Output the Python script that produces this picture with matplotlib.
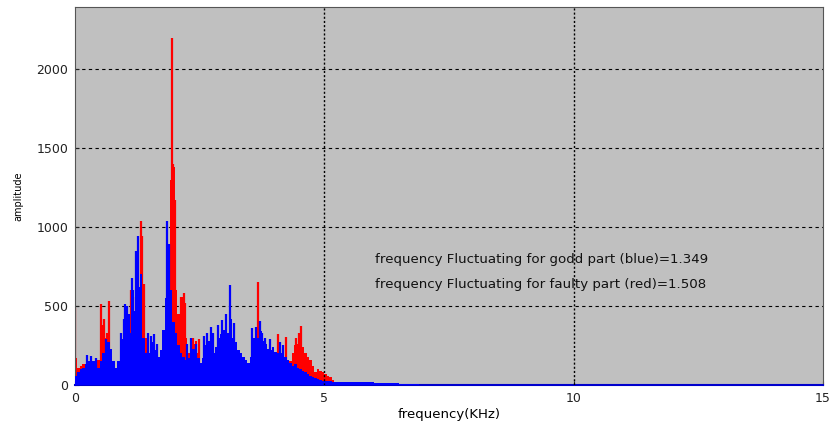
import numpy as np
import matplotlib
matplotlib.use("Agg")
import matplotlib.pyplot as plt

plt.rcParams['font.family'] = ['DejaVu Sans']

# frequency grid (kHz) for the envelope values, step 0.05 kHz
step = 0.05

# blue (good part) body amplitudes, from 0 kHz in 0.05 kHz steps
blue_amp = [60, 80, 100, 110, 130, 150, 170, 150, 140, 110,
            150, 200, 250, 270, 230, 150, 110, 150, 220, 290,
            350, 400, 330, 470, 560, 620, 700, 300, 200, 200,
            250, 270, 220, 180, 220, 350, 550, 800, 600, 400,
            330, 250, 200, 180, 160, 170, 200, 230, 200, 170,
            140, 170, 250, 280, 260, 200, 240, 300, 320, 350,
            380, 330, 420, 300, 270, 220, 200, 180, 160, 140,
            180, 300, 330, 300, 340, 280, 260, 230, 220, 240,
            210, 200, 200, 190, 180, 160, 140, 120, 130, 110,
            100, 90, 80, 70, 60, 50, 45, 35, 30, 25,
            24, 24, 24, 22, 22, 22, 22, 20, 20, 20,
            20, 20, 20, 18, 18, 18, 18, 18, 16, 16,
            15, 15, 15, 14, 14, 12, 12, 12, 10, 10,
            8, 8, 8, 8, 8, 6, 6, 5, 3, 3]

# red (faulty part) body amplitudes, from 0 kHz in 0.05 kHz steps
red_amp = [170, 110, 120, 130, 130, 130, 120, 130, 120, 160,
           300, 380, 300, 250, 230, 150, 100, 100, 150, 200,
           300, 400, 300, 450, 550, 600, 700, 600, 300, 170,
           200, 220, 200, 170, 200, 300, 500, 700, 1300, 1380,
           600, 450, 550, 560, 300, 200, 180, 260, 280, 200,
           140, 120, 200, 230, 220, 170, 200, 250, 270, 290,
           310, 280, 330, 250, 230, 190, 170, 160, 140, 130,
           160, 250, 280, 290, 300, 250, 230, 200, 200, 220,
           190, 180, 180, 170, 170, 150, 150, 200, 250, 260,
           300, 240, 200, 180, 160, 120, 80, 100, 90, 80,
           70, 60, 50, 30, 15]

# isolated narrow spikes (kHz, amplitude)
red_spike_f = [0.01, 0.53, 0.58, 0.64, 0.69, 1.12, 1.16, 1.32, 1.35, 1.38,
               1.94, 1.97, 2.00, 2.13, 2.18, 2.20, 2.37, 2.48, 3.66, 4.07,
               4.24, 4.44, 4.49, 4.53]
red_spike_a = [485, 515, 420, 330, 530, 600, 560, 1040, 940, 640,
               2195, 1400, 1170, 560, 580, 520, 300, 290, 650, 320,
               305, 300, 330, 375]
blue_spike_f = [0.25, 0.33, 0.43, 0.63, 0.92, 0.98, 1.01, 1.05, 1.09, 1.14,
                1.17, 1.22, 1.26, 1.46, 1.52, 1.58, 1.64, 1.845, 1.88, 2.24,
                2.33, 2.42, 2.58, 2.64, 2.72, 2.77, 2.86, 2.95, 3.02, 3.11,
                3.18, 3.55, 3.62, 3.70, 3.76, 3.82, 3.92, 4.12, 4.18]
blue_spike_a = [190, 185, 170, 290, 330, 420, 510, 500, 450, 680,
                600, 850, 940, 330, 310, 320, 260, 1035, 890, 260,
                300, 260, 310, 330, 370, 330, 380, 410, 450, 630,
                390, 360, 370, 405, 330, 300, 290, 270, 250]

annot_lines = ["frequency Fluctuating for godd part (blue)=1.349",
               "frequency Fluctuating for faulty part (red)=1.508"]

fig = plt.figure(figsize=(8.37, 4.26), dpi=100)
ax = fig.add_axes([75/837, 1-385/426, (823-75)/837, (385-7)/426])
ax.set_facecolor('#c0c0c0')

rf = np.arange(len(red_amp)) * step
bf = np.arange(len(blue_amp)) * step

ax.bar(rf, red_amp, width=step, align='edge', color='#ff0000', linewidth=0, zorder=2)
ax.vlines(red_spike_f, 0, red_spike_a, color='#ff0000', linewidth=1.6, zorder=2)
ax.bar(bf, blue_amp, width=step, align='edge', color='#0000ff', linewidth=0, zorder=3)
ax.vlines(blue_spike_f, 0, blue_spike_a, color='#0000ff', linewidth=1.6, zorder=3)

ax.set_xlim(0, 15)
ax.set_ylim(0, 2392)
ax.set_xticks([0, 5, 10, 15])
ax.set_yticks([0, 500, 1000, 1500, 2000])
ax.tick_params(direction='in', length=3, labelsize=9, colors='#222222', pad=5)
ax.grid(False)
for yv in [500, 1000, 1500, 2000]:
    ax.axhline(yv, color='black', linestyle=(0, (3, 3)), linewidth=0.8, zorder=1)
for xv in [5, 10]:
    ax.axvline(xv, color='black', linestyle=(0, (1.5, 1.5)), linewidth=1.0, zorder=4)

for s in ['left', 'top', 'right']:
    ax.spines[s].set_color('#555555')
    ax.spines[s].set_linewidth(0.8)
ax.spines['bottom'].set_color('#0000cc')
ax.spines['bottom'].set_linewidth(1.5)

ax.set_xlabel('frequency(KHz)', fontsize=9.5, labelpad=2)
ax.set_ylabel('amplitude', fontsize=7, labelpad=9)

ax.text(6.02, 797, annot_lines[0], fontsize=9.6, va='center', ha='left', color='#111111', zorder=5)
ax.text(6.02, 639, annot_lines[1], fontsize=9.6, va='center', ha='left', color='#111111', zorder=5)

fig.savefig('out.png', dpi=100, facecolor='white')
